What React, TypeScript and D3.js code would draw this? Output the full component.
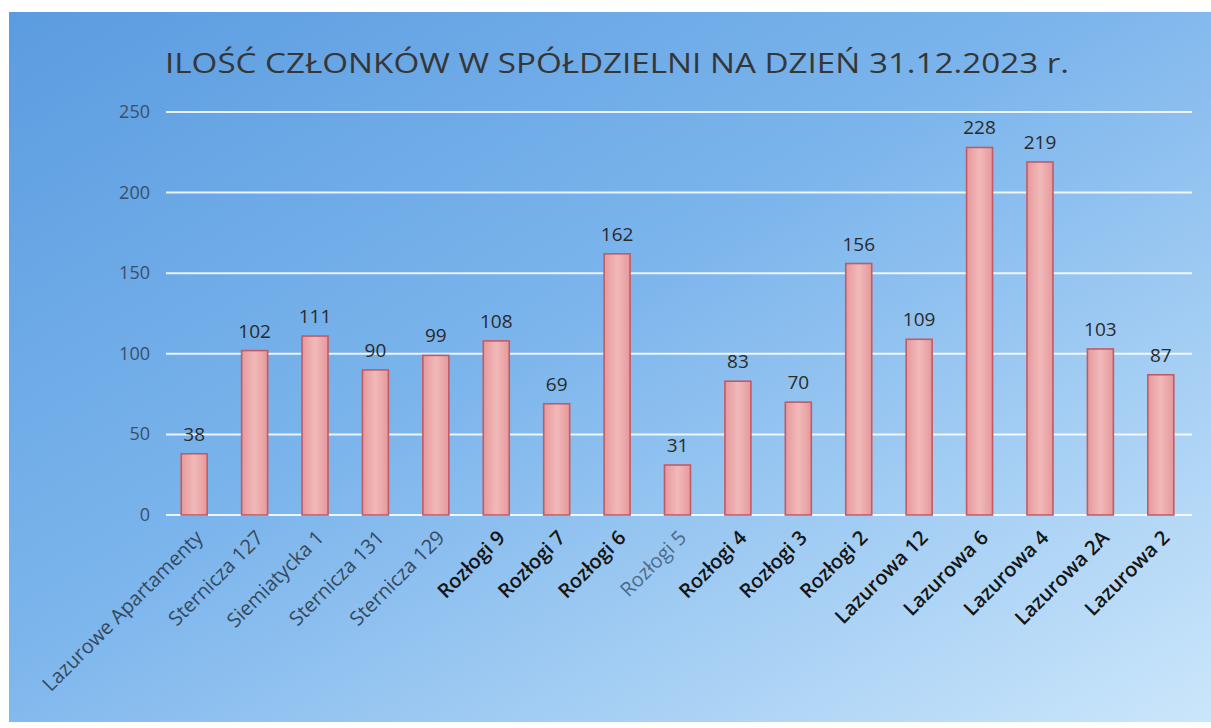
import React, { useEffect } from "react";
import * as d3 from "d3";

const categories = [
  "Lazurowe Apartamenty",
  "Sternicza 127",
  "Siemiatycka 1",
  "Sternicza 131",
  "Sternicza 129",
  "Rozłogi 9",
  "Rozłogi 7",
  "Rozłogi 6",
  "Rozłogi 5",
  "Rozłogi 4",
  "Rozłogi 3",
  "Rozłogi 2",
  "Lazurowa 12",
  "Lazurowa 6",
  "Lazurowa 4",
  "Lazurowa 2A",
  "Lazurowa 2",
];
const values = [38, 102, 111, 90, 99, 108, 69, 162, 31, 83, 70, 156, 109, 228, 219, 103, 87];
const yTicks = [0, 50, 100, 150, 200, 250];
const labelTone = ["g", "g", "g", "g", "g", "d", "d", "d", "f", "d", "d", "d", "d", "d", "d", "d", "d"];
const title = "ILOŚĆ CZŁONKÓW W SPÓŁDZIELNI NA DZIEŃ 31.12.2023 r.";

const W = 1211;
const H = 728;
const FONT = "'Open Sans', 'Noto Sans', sans-serif";

export default function App() {
  useEffect(() => {
    document.body.style.margin = "0";
  }, []);

  const x = d3.scaleBand<string>().domain(categories).range([164, 1191]).paddingInner(0.57).paddingOuter(0.285);
  const y = d3.scaleLinear().domain([0, 250]).range([515, 112]);
  const bw = x.bandwidth();

  const toneColor = (t: string) => (t === "g" ? "#34495f" : t === "f" ? "#4f6a88" : "#141414");
  const toneWeight = (t: string) => (t === "d" ? 600 : 400);

  return (
    <svg width={W} height={H} style={{ display: "block" }} fontFamily={FONT}>
      <defs>
        <linearGradient id="bg" x1="0" y1="0" x2="1" y2="1">
          <stop offset="0" stopColor="#5b9ce0" />
          <stop offset="0.45" stopColor="#7cb5ec" />
          <stop offset="1" stopColor="#cbe6fb" />
        </linearGradient>
        <linearGradient id="bar" x1="0" y1="0" x2="1" y2="0">
          <stop offset="0" stopColor="#e5999c" />
          <stop offset="0.5" stopColor="#f2b9b9" />
          <stop offset="1" stopColor="#e5999c" />
        </linearGradient>
      </defs>
      <rect x={0} y={0} width={W} height={H} fill="#ffffff" />
      <rect x={9} y={12} width={W - 9} height={710} fill="url(#bg)" />
      <text x={617} y={73} textAnchor="middle" fontSize={28} fill="#363636" textLength={904} lengthAdjust="spacingAndGlyphs">
        {title}
      </text>
      {yTicks.map((t) => (
        <g key={t}>
          <line x1={166} x2={1192} y1={y(t)} y2={y(t)} stroke="#ffffff" strokeOpacity={0.85} strokeWidth={2} />
          <text x={150} y={y(t) + 6} textAnchor="end" fontSize={18} fill="#3a4f68">
            {t}
          </text>
        </g>
      ))}
      {categories.map((c, i) => {
        const bx = x(c)!;
        const v = values[i];
        return (
          <g key={c}>
            <rect x={bx} y={y(v)} width={bw} height={y(0) - y(v)} fill="url(#bar)" stroke="#c45a64" strokeWidth={1.6} />
            <text x={bx + bw / 2} y={y(v) - 13} textAnchor="middle" fontSize={19} fill="#2a2a2a">
              {v}
            </text>
            <text
              transform={`translate(${bx + bw / 2 + 10},${y(0) + 24}) rotate(-45)`}
              textAnchor="end"
              fontSize={20}
              fontWeight={toneWeight(labelTone[i])}
              fill={toneColor(labelTone[i])}
            >
              {c}
            </text>
          </g>
        );
      })}
    </svg>
  );
}
